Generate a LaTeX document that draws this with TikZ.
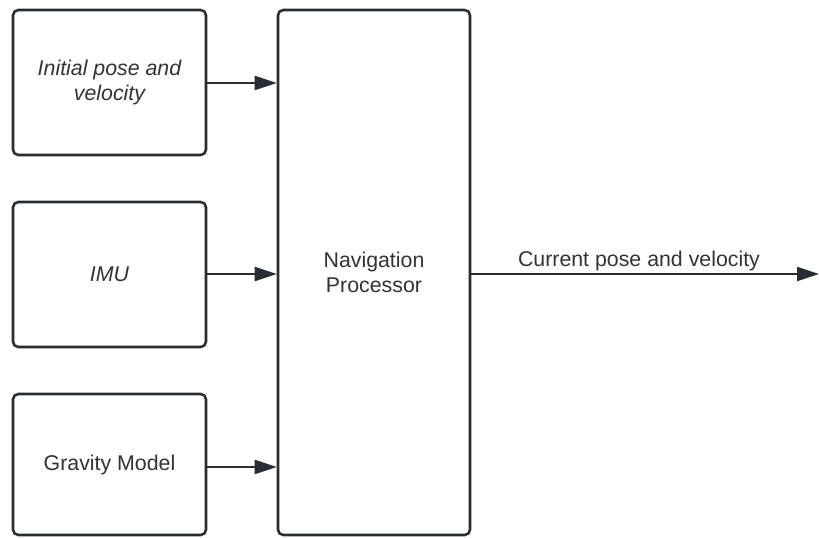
\documentclass[tikz,border=0pt]{standalone}
\usepackage{fontspec}
\setmainfont{Liberation Sans}
\usetikzlibrary{arrows.meta,calc}
\definecolor{edge}{HTML}{282C33}
\definecolor{ink}{HTML}{333333}
\begin{document}
\begin{tikzpicture}[x=0.75pt,y=-0.75pt,
  block/.style={draw=edge,line width=1.9pt,rounded corners=4pt,fill=white,
    align=center,text=ink,font=\fontsize{16pt}{18.75pt}\selectfont,inner sep=0pt},
  side/.style={block,minimum width=193*0.75pt,minimum height=145*0.75pt},
  feed/.style={draw=edge,line width=1.5pt,-{Triangle[length=16.5pt,width=10.5pt]}}]
  \useasboundingbox (0,0) rectangle (819,537);
  % input blocks
  \node[side] (init) at (109.5,82.5) {\itshape Initial pose and\\\itshape velocity};
  \node[side] (imu) at (109.5,274.5) {\itshape IMU};
  \node[side,minimum height=141*0.75pt] (grav) at (109.5,464.5) {Gravity Model};
  % processor
  \node[block,minimum width=192*0.75pt,minimum height=525*0.75pt] (nav) at (374,272.5)
    {Navigation\\Processor};
  % inputs into the processor
  \draw[feed] ($(init.east)+(0,0.5)$) -- ($(init.east -| nav.west)+(0,0.5)$);
  \draw[feed] ($(imu.east)+(0,-0.5)$) -- ($(imu.east -| nav.west)+(0,-0.5)$);
  \draw[feed] ($(grav.east)+(0,2.5)$) -- ($(grav.east -| nav.west)+(0,2.5)$);
  % output
  \coordinate (out) at (819,274);
  \draw[feed] (nav.east |- out) -- (out);
  \node[text=ink,font=\fontsize{16pt}{18.75pt}\selectfont,anchor=base] (outlbl) at (639,266)
    {Current pose and velocity};
\end{tikzpicture}
\end{document}
